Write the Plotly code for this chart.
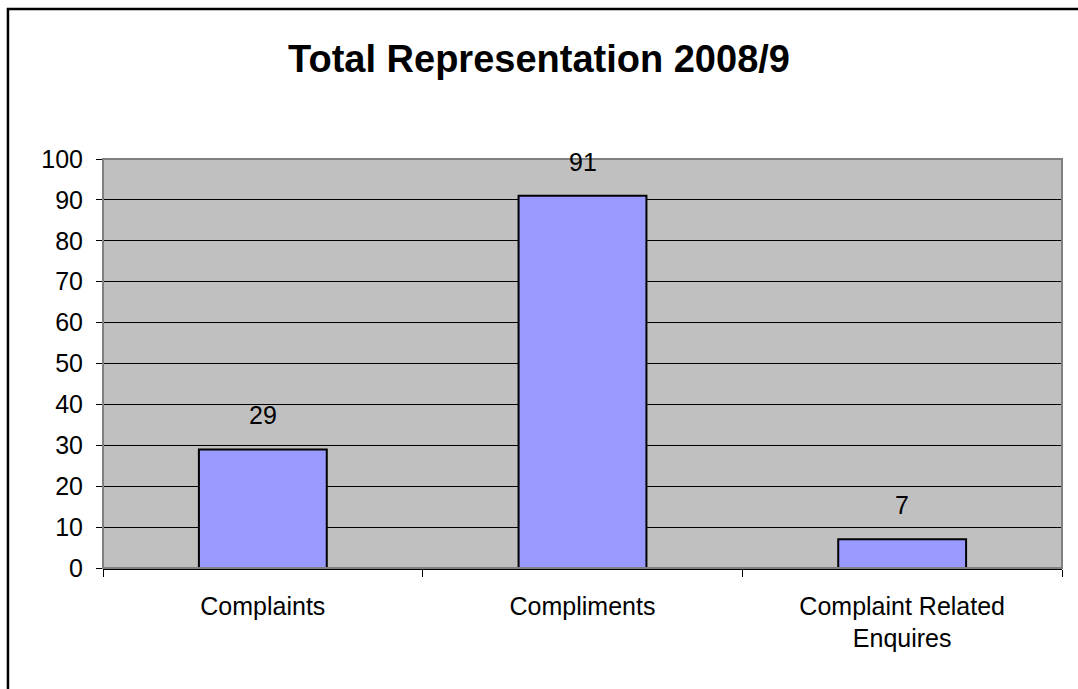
import plotly.graph_objects as go

# Representation counts for 2008/9
categories = ["Complaints", "Compliments", "Complaint Related<br>Enquires"]
values = [29, 91, 7]
y_ticks = [0, 10, 20, 30, 40, 50, 60, 70, 80, 90, 100]

FONT = "Liberation Sans, Arial, sans-serif"

fig = go.Figure()
fig.add_trace(go.Bar(
    x=categories,
    y=values,
    width=0.4,
    marker=dict(color="#9999FF", line=dict(color="#000000", width=2)),
    hoverinfo="x+y",
))

# Value labels floating above each bar
for cat, val in zip(categories, values):
    fig.add_annotation(
        x=cat, y=val, text=str(val), showarrow=False,
        yanchor="middle", yshift=34,
        font=dict(family=FONT, size=25, color="#000000"),
    )

# Plot-area frame (grey) and outer chart frame (black)
fig.add_shape(type="rect", xref="paper", yref="paper", x0=0, x1=1, y0=0, y1=1,
              line=dict(color="#808080", width=2), layer="above")
fig.add_shape(type="rect", xref="paper", yref="paper",
              x0=-0.0991, x1=1.04, y0=-0.33, y1=1.3667,
              line=dict(color="#000000", width=2.5), layer="above")

fig.update_layout(
    width=1078, height=689,
    margin=dict(l=103, r=16, t=159, b=121),
    paper_bgcolor="#FFFFFF",
    plot_bgcolor="#C0C0C0",
    showlegend=False,
    bargap=0.6,
    font=dict(family=FONT, size=25, color="#000000"),
    title=dict(
        text="<b>Total Representation 2008/9</b>",
        font=dict(family=FONT, size=38, color="#000000"),
        x=0.5, xanchor="center", xref="container",
        y=1 - 59 / 689, yanchor="middle", yref="container",
    ),
    xaxis=dict(
        type="category",
        showgrid=False,
        showline=True, linecolor="#000000", linewidth=1.5,
        ticks="outside", tickson="boundaries", ticklen=7,
        tickcolor="#000000", tickwidth=1,
        tickfont=dict(family=FONT, size=25, color="#000000"),
        ticklabelstandoff=15,
    ),
    yaxis=dict(
        range=[0, 100],
        tickvals=y_ticks,
        showgrid=True, gridcolor="#000000", gridwidth=1,
        zeroline=False,
        showline=False,
        ticks="outside", ticklen=6, tickcolor="#000000", tickwidth=1,
        tickfont=dict(family=FONT, size=25, color="#000000"),
        ticklabelstandoff=8,
    ),
)

fig.write_html("out.html")
